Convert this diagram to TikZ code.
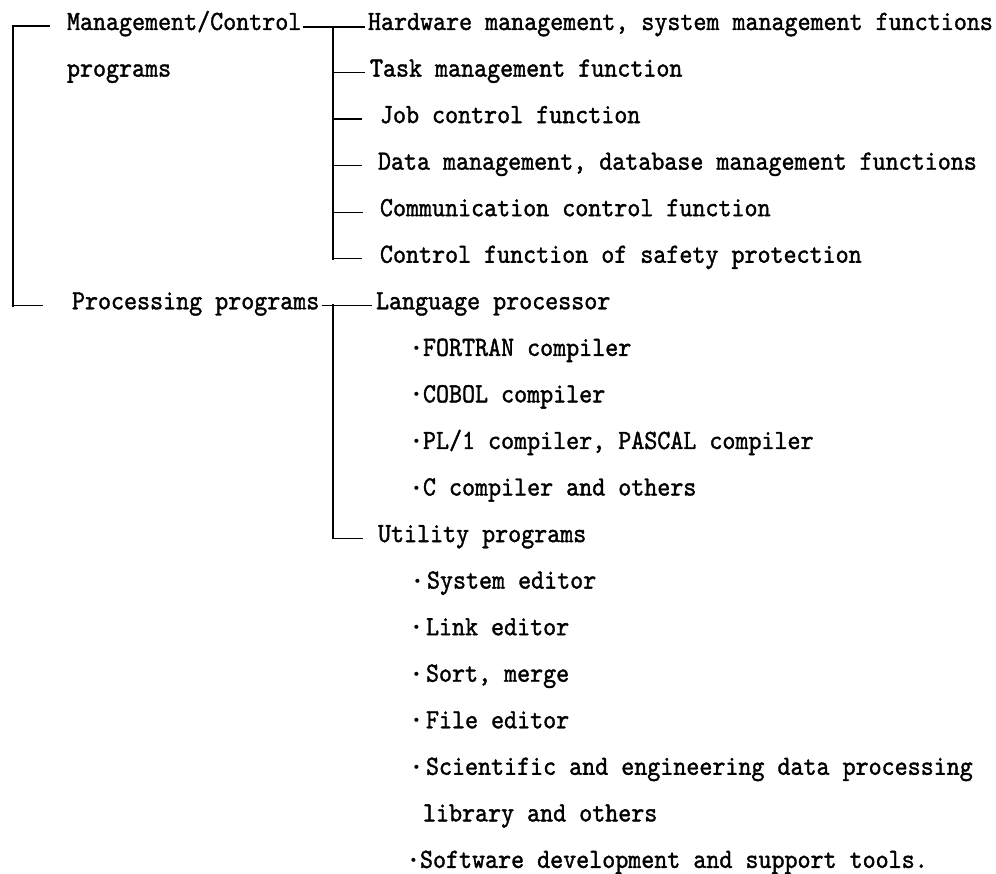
\documentclass[tikz,border=0pt]{standalone}
\usepackage{fontspec}
\newfontfamily\treefont{lmmono10-regular}[Extension=.otf, FakeBold=1.3, FakeStretch=0.892]
\newfontfamily\dotfont{DejaVu Sans}
\newcommand\itemdot{\makebox[13pt]{\raisebox{2.5pt}{\dotfont\fontsize{14}{14}\selectfont •}}}
\usetikzlibrary{calc}

\tikzset{
  entry/.style={anchor=base west, inner sep=0pt, outer sep=0pt,
                font=\treefont\fontsize{27.8}{32}\selectfont},
  trunk/.style={line width=2.6pt, line cap=rect},
  twig/.style={line width=1.2pt},
}

\begin{document}
\begin{tikzpicture}[x=1pt, y=-1pt]
\useasboundingbox (0,0) rectangle (996,874);

% ---- top level -------------------------------------------------------
\node[entry] (mc)  at (67,30.0)   {Management/Control};
\node[entry] (mcp) at (67,76.6)   {programs};
\node[entry] (pp)  at (72,309.3)  {Processing programs};

% ---- management / control functions ---------------------------------
\node[entry] (hw) at (368,30.0)  {Hardware management, system management functions};
\node[entry] (tm) at (370,76.6)  {Task management function};
\node[entry] (jc) at (380,123.1) {Job control function};
\node[entry] (dm) at (378,169.7) {Data management, database management functions};
\node[entry] (cc) at (380,216.2) {Communication control function};
\node[entry] (sp) at (380,262.8) {Control function of safety protection};

% ---- processing programs --------------------------------------------
\node[entry] (lp) at (376,309.3) {Language processor};
\node[entry] (l1) at (410,355.9) {\itemdot FORTRAN compiler};
\node[entry] (l2) at (410,402.4) {\itemdot COBOL compiler};
\node[entry] (l3) at (410,449.0) {\itemdot PL/1 compiler, PASCAL compiler};
\node[entry] (l4) at (410,495.5) {\itemdot C compiler and others};
\node[entry] (ut) at (378,542.1) {Utility programs};
\node[entry] (u1) at (411,588.6) {\itemdot\kern3pt System editor};
\node[entry] (u2) at (410,635.2) {\itemdot\kern3pt Link editor};
\node[entry] (u3) at (410,681.7) {\itemdot\kern3pt Sort, merge};
\node[entry] (u4) at (410,728.3) {\itemdot\kern3pt File editor};
\node[entry] (u5) at (410,774.8) {\itemdot\kern3pt Scientific and engineering data processing};
\node[entry] (u6) at (423,821.4) {library and others};
\node[entry] (u7) at (407,867.9) {\itemdot Software development and support tools.};

% ---- left bracket ----------------------------------------------------
\coordinate (s0) at (13,0);
\coordinate (mcin) at ($(mc.base west)+(-17,-4)$);
\coordinate (ppin) at ($(pp.base west)+(-29,-4)$);
\draw[twig] (mcin) -- (s0 |- mcin);
\draw[twig] (ppin) -- (s0 |- ppin);
\draw[trunk] (s0 |- mcin) -- (s0 |- ppin);

% ---- management / control bracket -----------------------------------
\coordinate (s1) at (333,0);
\coordinate (mcout) at ($(mc.base east)+(2,-3)$);
\coordinate (hwin) at ($(hw.base west)+(-3,-3)$);
\draw[twig] (mcout) -- (hwin);
\foreach \n/\d in {tm/5, jc/18, dm/16, cc/17, sp/18} {
  \path ($(\n.base west)+(-\d,-4)$) coordinate (tip);
  \draw[twig] (s1 |- tip) -- (tip);
}
\coordinate (spin) at ($(sp.base west)+(-18,-4)$);
\draw[trunk] (s1 |- hwin) -- (s1 |- spin);

% ---- processing bracket ----------------------------------------------
\coordinate (ppout) at ($(pp.base east)+(3,-4)$);
\coordinate (lpin) at ($(lp.base west)+(-4,-4)$);
\coordinate (utin) at ($(ut.base west)+(-15,-4)$);
\draw[twig] (ppout) -- (lpin);
\draw[twig] (s1 |- utin) -- (utin);
\draw[trunk] (s1 |- lpin) -- (s1 |- utin);
\end{tikzpicture}
\end{document}
